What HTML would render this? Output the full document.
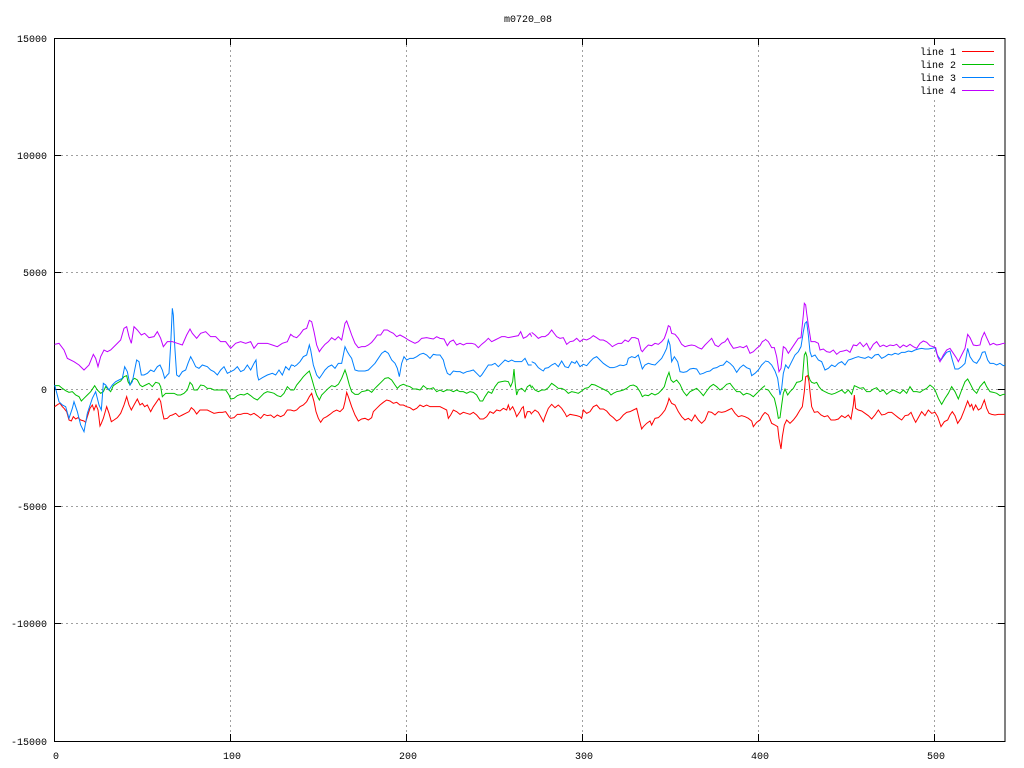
<!DOCTYPE html>
<html><head><meta charset="utf-8"><style>
html,body{margin:0;padding:0;background:#fff;}
svg{display:block;}
text{font-family:"Liberation Mono",monospace;font-size:10px;fill:#000;}
.d{fill:none;stroke-width:1;vector-effect:non-scaling-stroke;stroke-linejoin:miter;}
.r{stroke:#ff0000}.g{stroke:#00c000}.b{stroke:#0080ff}.p{stroke:#c000ff}
</style></head><body>
<svg width="1024" height="768" viewBox="0 0 1024 768" xmlns="http://www.w3.org/2000/svg">
<rect width="1024" height="768" fill="#fff"/>
<text x="528" y="22" text-anchor="middle">m0720_08</text>
<g stroke="#a0a0a0" stroke-width="1" stroke-dasharray="2,3" fill="none">
<line x1="61" y1="155.5" x2="998" y2="155.5"/>
<line x1="61" y1="272.5" x2="998" y2="272.5"/>
<line x1="61" y1="389.5" x2="998" y2="389.5"/>
<line x1="61" y1="506.5" x2="998" y2="506.5"/>
<line x1="61" y1="623.5" x2="998" y2="623.5"/>
<line x1="230.5" y1="45" x2="230.5" y2="734"/>
<line x1="406.5" y1="45" x2="406.5" y2="734"/>
<line x1="582.5" y1="45" x2="582.5" y2="734"/>
<line x1="758.5" y1="45" x2="758.5" y2="734"/>
<line x1="934.5" y1="45" x2="934.5" y2="734"/>
</g>
<rect x="905" y="44" width="96" height="53" fill="#fff"/>
<g stroke="#000" stroke-width="1" fill="none">
<rect x="54.5" y="38.5" width="950.5" height="703"/>
<path d="M54 155.5h7M998 155.5h7M54 272.5h7M998 272.5h7M54 389.5h7M998 389.5h7M54 506.5h7M998 506.5h7M54 623.5h7M998 623.5h7"/>
<path d="M230.5 38v7M230.5 741v-7M406.5 38v7M406.5 741v-7M582.5 38v7M582.5 741v-7M758.5 38v7M758.5 741v-7M934.5 38v7M934.5 741v-7"/>
</g>
<g text-anchor="end">
<text x="47" y="42">15000</text>
<text x="47" y="159">10000</text>
<text x="47" y="276">5000</text>
<text x="47" y="393">0</text>
<text x="47" y="510">-5000</text>
<text x="47" y="627">-10000</text>
<text x="47" y="745">-15000</text>
</g>
<g text-anchor="middle">
<text x="56" y="759">0</text>
<text x="232" y="759">100</text>
<text x="408" y="759">200</text>
<text x="584" y="759">300</text>
<text x="760" y="759">400</text>
<text x="936" y="759">500</text>
</g>
<g text-anchor="end">
<text x="956" y="55">line 1</text>
<text x="956" y="68">line 2</text>
<text x="956" y="81">line 3</text>
<text x="956" y="94">line 4</text>
</g>
<line x1="962" y1="51.5" x2="994" y2="51.5" stroke="#ff0000" stroke-width="1"/>
<line x1="962" y1="64.5" x2="994" y2="64.5" stroke="#00c000" stroke-width="1"/>
<line x1="962" y1="77.5" x2="994" y2="77.5" stroke="#0080ff" stroke-width="1"/>
<line x1="962" y1="90.5" x2="994" y2="90.5" stroke="#c000ff" stroke-width="1"/>

<!-- chunk 1 -->
<g transform="translate(54,295) scale(0.333333)">
<polyline class="d r" points="2,335 12,328 18,325 25,335 30,340 38,350 45,375 52,378 58,365 65,372 72,368 80,375 90,378 95,382 100,365 108,340 115,330 120,345 126,330 132,345 138,393 142,385 148,370 158,335 165,355 172,380 180,375 190,368 200,355 210,330 218,305 225,330 232,345 240,330 250,312 258,330 265,325 272,335 280,330 290,350 298,335 305,325 315,310 320,320 325,350 330,372 340,370 348,362 355,360 365,355 375,365 385,360 395,355 405,350 412,338 420,345 428,357 438,345 450,345 460,345 470,350 480,355 495,352 505,352 515,350 525,365 530,370 540,368 550,358 560,358 570,355 580,355 590,360 600,355 610,362 620,370 630,358 640,362 650,360 660,368 670,360 680,365 690,360 700,345 710,345 720,348"/>
<polyline class="d g" points="2,272 15,272 25,280 35,287 45,292 55,290 65,300 75,305 82,318 90,310 100,300 110,290 122,272 130,285 140,295 148,290 155,275 162,282 170,290 178,272 188,265 200,258 210,245 218,242 222,260 228,270 235,255 242,250 250,255 258,270 265,275 275,270 285,265 295,275 305,262 315,265 320,275 325,305 335,295 350,295 360,295 370,300 380,300 390,295 400,285 408,262 415,270 420,285 430,285 440,270 450,272 460,280 470,280 480,285 490,285 500,285 515,285 525,300 530,312 540,310 550,302 560,298 570,300 580,295 590,302 600,310 610,315 620,305 630,295 640,290 650,292 660,295 670,302 680,305 690,295 700,275 710,285 720,285"/>
<polyline class="d b" points="2,270 15,320 25,330 35,335 45,370 55,340 60,320 70,350 80,390 90,410 100,355 105,340 115,310 125,290 135,330 142,345 148,265 155,270 165,285 175,270 185,260 195,255 205,250 212,215 220,230 228,270 235,260 240,235 248,195 255,200 262,240 270,240 280,235 290,225 300,230 310,215 318,210 325,225 332,250 340,240 345,235 350,150 355,40 358,60 362,150 368,240 375,245 385,230 395,225 402,205 410,185 418,200 425,215 435,220 445,210 460,215 470,225 480,230 490,240 500,225 510,215 520,235 530,230 540,225 550,215 560,230 570,225 580,210 590,225 600,205 606,195 610,240 614,255 625,248 640,240 655,235 665,240 675,225 685,240 695,215 705,225 712,210 720,212"/>
<polyline class="d p" points="2,148 15,145 30,165 40,190 60,200 75,210 90,225 105,210 118,178 125,190 132,215 140,185 150,165 160,170 170,165 185,150 200,135 210,100 218,95 225,125 232,145 240,95 250,105 262,120 272,115 285,128 300,125 310,110 320,130 328,155 340,140 355,140 370,145 385,150 398,120 408,102 415,115 428,130 440,115 455,110 470,125 485,125 500,140 515,140 530,160 545,145 560,140 575,145 590,140 600,160 612,145 625,145 640,145 655,150 670,155 685,145 700,140 710,118 720,126"/>
</g>
<!-- chunk 2 -->
<g transform="translate(290,295) scale(0.333333)">
<polyline class="d r" points="12,348 20,345 30,335 40,330 50,320 58,305 65,295 72,320 78,350 85,370 92,382 100,370 110,365 120,358 130,350 140,345 150,350 160,340 165,320 170,292 175,305 180,320 185,335 195,360 205,378 215,372 225,370 235,375 245,368 250,350 260,340 270,330 280,322 290,315 300,318 310,325 320,322 330,330 340,330 350,335 360,338 370,345 380,340 390,330 400,335 410,330 420,335 430,335 440,335 450,335 460,340 470,345 475,370 482,360 490,345 500,350 510,358 520,352 530,355 540,358 550,352 560,360 570,372 580,372 590,365 600,350 610,355 620,345 630,348 640,340 650,345 655,330 660,345 668,335 675,350 680,365 690,350 695,340 700,335 705,370 712,350 720,350 725,358"/>
<polyline class="d g" points="12,285 20,270 30,258 40,245 50,235 58,228 65,250 72,275 80,300 88,315 95,300 105,290 115,280 125,272 135,275 145,268 155,250 165,225 170,240 178,270 185,290 195,298 205,298 215,290 225,288 235,285 245,292 255,280 265,270 275,260 285,250 295,248 305,255 315,270 322,280 330,272 340,268 350,272 360,275 370,282 380,282 390,285 400,272 410,280 420,282 430,278 440,290 450,285 460,290 470,285 480,285 490,290 500,285 510,290 520,290 530,295 540,290 550,292 560,300 570,318 578,318 585,305 595,290 605,295 615,275 625,262 635,260 645,258 655,260 662,275 668,260 672,222 676,270 680,300 685,285 695,280 705,290 712,275 720,270 725,280"/>
<polyline class="d b" points="12,215 20,210 30,200 40,185 50,180 58,150 62,165 70,210 80,240 88,250 95,240 105,225 115,215 125,210 135,220 145,205 155,205 165,155 172,170 178,180 185,190 195,225 205,228 215,228 225,228 235,225 245,215 255,205 265,190 275,175 285,168 295,175 305,195 315,205 322,220 328,245 335,205 342,185 350,195 360,190 370,190 380,185 390,178 400,175 410,180 420,190 430,178 440,180 450,180 460,195 465,215 472,235 480,240 490,228 500,230 510,230 520,235 530,230 540,228 550,225 560,235 570,245 575,240 585,225 595,210 605,210 615,205 625,215 635,205 645,195 655,200 665,195 675,200 685,200 695,200 705,190 715,210 725,210"/>
<polyline class="d p" points="12,125 20,128 30,118 40,104 50,100 58,76 65,80 72,110 80,150 88,170 95,160 105,148 115,140 125,128 135,135 145,125 155,135 165,85 170,78 178,100 185,120 195,145 205,158 215,155 225,155 235,150 245,142 255,130 262,120 272,120 282,105 292,105 300,110 310,115 320,125 330,120 345,128 355,135 365,140 375,145 385,140 395,130 410,128 420,130 430,132 440,125 450,130 462,132 472,152 480,140 490,135 500,150 510,145 520,150 530,145 545,145 555,148 565,158 575,148 585,140 595,130 605,140 615,135 625,130 635,125 645,125 655,128 670,125 685,122 692,110 700,130 710,125 720,115 725,125"/>
</g>
<!-- chunk 3 -->
<g transform="translate(525,295) scale(0.333333)">
<polyline class="d r" points="20,355 30,345 40,352 50,370 55,380 60,365 70,340 80,328 90,338 100,330 110,340 120,355 125,365 135,358 145,360 155,362 165,365 170,370 175,345 185,355 195,350 205,335 215,330 225,342 235,342 245,348 255,360 265,368 275,378 285,372 295,360 305,352 315,350 325,345 335,340 342,370 350,402 355,395 365,385 375,378 380,390 390,370 400,368 410,358 420,345 428,325 432,310 440,325 450,330 460,350 470,365 480,375 490,370 500,378 510,360 520,375 530,385 540,375 550,350 560,352 570,360 580,350 590,352 600,350 610,345 620,340 630,355 640,365 650,362 660,365 670,370 680,378 685,395 695,382 705,375 712,362 720,352"/>
<polyline class="d g" points="20,272 30,285 40,290 50,285 60,285 70,278 80,265 90,272 100,280 110,280 120,285 130,295 140,290 150,292 160,295 170,288 180,280 190,278 200,268 210,270 220,275 230,280 240,285 250,290 258,300 265,295 275,290 285,288 295,285 305,280 315,272 325,270 335,275 345,290 352,305 360,300 370,302 380,295 390,300 400,295 410,285 418,275 425,250 432,232 438,255 445,262 455,255 465,268 475,290 485,302 495,290 505,285 515,280 525,290 535,302 545,288 555,275 565,268 575,275 585,285 595,278 605,268 615,265 625,278 635,290 645,290 655,300 665,295 675,298 685,305 690,300 700,290 710,280 720,272"/>
<polyline class="d b" points="20,200 30,205 40,218 50,225 55,228 60,220 70,218 80,210 90,205 100,215 110,198 120,215 130,218 140,200 150,205 155,198 165,215 175,208 185,212 195,200 205,190 215,185 225,195 235,205 245,212 255,218 265,218 275,215 285,210 295,212 305,208 310,190 320,185 330,188 340,180 348,208 352,222 360,210 370,205 380,208 390,210 400,200 410,190 418,175 425,160 430,135 435,150 440,200 448,185 458,200 465,230 475,232 485,230 495,222 505,220 515,222 525,238 535,235 545,230 555,228 565,220 575,218 585,212 595,210 605,198 615,205 625,215 635,232 645,218 655,210 665,218 675,222 680,242 690,235 700,225 710,210 720,200"/>
<polyline class="d p" points="20,112 30,120 40,130 50,125 60,125 70,118 80,105 85,112 95,125 105,130 115,128 125,148 135,140 145,138 155,130 165,140 175,132 185,135 195,130 205,122 215,128 225,135 235,135 245,140 255,148 262,155 270,150 280,145 290,145 300,135 310,140 320,128 330,128 340,132 348,165 352,170 360,160 370,150 380,152 390,145 400,148 410,140 418,130 425,110 430,92 435,95 440,115 450,118 460,130 470,148 480,155 490,152 500,150 510,152 520,158 530,162 540,150 550,140 560,130 570,150 580,155 590,145 600,140 608,130 615,145 625,160 635,158 645,155 655,158 665,152 675,175 685,170 695,160 705,152 712,140 720,135"/>
</g>
<!-- chunk 4 -->
<g transform="translate(765,295) scale(0.333333)">
<polyline class="d r" points="0,352 10,360 20,385 30,390 38,395 42,430 48,462 52,425 58,390 65,375 75,385 85,375 95,362 105,345 112,335 118,290 122,245 128,242 132,260 135,290 140,335 148,352 158,350 168,360 178,365 188,362 198,375 210,375 220,372 230,362 240,368 250,360 258,372 265,330 268,300 272,340 280,345 290,348 300,355 310,362 320,372 330,360 340,345 350,360 360,358 370,352 380,352 390,360 400,368 410,375 420,362 430,360 438,352 445,368 452,382 460,368 470,350 480,362 490,345 500,355 510,352 518,365 528,395 538,380 548,375 555,360 562,350 570,362 578,385 588,370 598,345 608,318 615,335 620,328 625,345 632,330 640,345 648,340 658,315 665,340 672,355 680,358 690,360 700,358 710,358 720,358"/>
<polyline class="d g" points="0,282 10,285 20,300 28,310 35,340 40,370 45,368 50,330 55,295 60,282 68,300 75,290 85,280 95,262 105,260 112,255 118,180 122,172 126,185 130,240 135,255 140,262 148,265 155,262 162,275 170,285 180,290 190,295 200,298 210,295 220,290 230,285 240,295 250,285 260,298 268,272 275,275 285,280 295,278 305,290 315,290 325,282 335,278 345,290 355,285 365,298 375,290 385,285 395,290 405,295 415,285 425,295 435,275 445,290 455,290 465,292 475,285 485,280 495,270 505,278 510,285 520,310 530,328 540,310 550,295 560,275 570,290 580,312 590,285 600,260 608,252 615,265 625,285 635,295 645,275 658,260 665,275 675,290 685,292 695,295 705,302 715,298 720,298"/>
<polyline class="d b" points="0,198 10,200 20,210 30,228 38,250 45,300 50,280 55,235 62,210 70,220 80,200 90,180 100,170 108,155 115,110 120,85 125,80 130,120 135,170 140,185 150,180 160,195 170,200 180,225 190,220 200,210 210,215 220,205 230,200 240,210 250,195 260,192 270,188 280,185 290,188 300,190 310,185 320,190 330,180 340,178 350,190 360,185 370,178 380,180 390,175 400,178 410,172 420,172 430,168 440,170 450,165 460,162 470,160 480,162 490,162 500,160 510,158 515,175 520,185 528,195 535,185 545,172 555,168 562,195 570,222 580,222 590,215 600,205 608,160 615,185 625,200 635,205 645,190 652,172 660,170 668,195 675,205 685,205 695,210 705,205 715,212 720,210"/>
<polyline class="d p" points="0,132 10,140 20,158 28,158 35,185 42,230 48,220 55,155 62,160 70,175 80,160 90,145 100,130 108,128 115,60 118,25 122,30 125,55 130,90 138,140 150,140 160,145 165,165 175,162 185,170 195,172 205,165 215,178 225,170 235,168 245,165 255,172 265,150 275,152 285,142 295,155 305,145 315,165 325,148 335,140 345,155 355,150 365,155 375,150 385,152 395,148 405,158 415,150 425,155 435,148 445,155 455,160 465,145 475,138 485,142 495,152 505,155 512,158 518,185 525,200 535,180 545,165 555,160 565,175 575,190 580,200 590,180 600,160 608,118 615,128 625,150 635,152 645,150 650,130 658,112 665,128 675,150 685,145 695,150 705,148 715,145 720,145"/>
</g>
</svg>
</body></html>
